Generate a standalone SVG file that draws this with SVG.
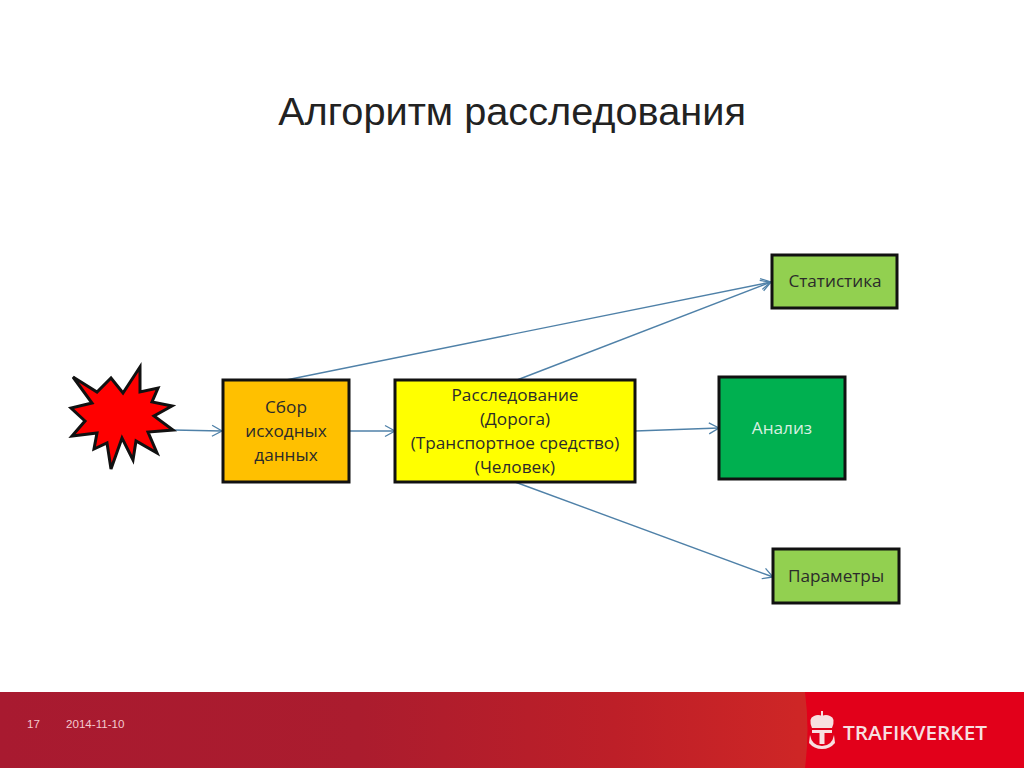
<svg xmlns="http://www.w3.org/2000/svg" width="1024" height="768" viewBox="0 0 1024 768">
<style>
.t{font-family:"Open Sans","Noto Sans","Liberation Sans",sans-serif;font-size:17.2px;text-anchor:middle;fill:#2b2b2b}
.b{stroke:#111;stroke-width:3}
.c{fill:none;stroke:#4f81a8;stroke-width:1.4;marker-end:url(#a)}
.f{font-family:"Liberation Sans",sans-serif;font-size:11.6px;fill:#f3c9cf}
</style>
<defs>
<marker id="a" markerUnits="userSpaceOnUse" markerWidth="14" markerHeight="14" refX="11" refY="7" orient="auto"><path d="M1 1.5L11 7L1 12.5" fill="none" stroke="#4f81a8" stroke-width="1.3"/></marker>
<linearGradient id="g" x1="0" x2="1" y1="0" y2="0"><stop offset="0" stop-color="#a81a30"/><stop offset=".35" stop-color="#ab1c2e"/><stop offset=".6" stop-color="#bd1f28"/><stop offset=".78" stop-color="#ce2626"/><stop offset="1" stop-color="#d42a22"/></linearGradient>
</defs>
<rect width="1024" height="768" fill="#fff"/>
<text x="512" y="125" font-family="'Liberation Sans',sans-serif" font-size="39.7" text-anchor="middle" fill="#222">Алгоритм расследования</text>
<g id="connectors">
<path class="c" d="M173 430L222 431"/>
<path class="c" d="M349 431L395 431"/>
<path class="c" d="M286 380L771 282"/>
<path class="c" d="M517 380L771 282"/>
<path class="c" d="M635 431L719 428"/>
<path class="c" d="M515 482L773 577"/>
</g>
<g id="star"><polygon points="73,377 97,392 111,378 123,393 140,367 140,392 158,388 152,402 172,406 154,416 173,430 148,432 157,453 136,441 133,460 122,438 111,469 107,443 94,449 97,433 72,436 85,421 71,408 92,403" fill="#f00" stroke="#111" stroke-width="3" stroke-linejoin="miter" stroke-miterlimit="4"/></g>
<g id="sbor"><rect class="b" x="223" y="380" width="126" height="102" fill="#ffc000"/>
<text class="t" x="286" y="413">Сбор</text><text class="t" x="286" y="437">исходных</text><text class="t" x="286" y="461">данных</text></g>
<g id="rassled"><rect class="b" x="395" y="380" width="240" height="102" fill="#ff0"/>
<text class="t" x="515" y="401">Расследование</text><text class="t" x="515" y="425">(Дорога)</text><text class="t" x="515" y="449">(Транспортное средство)</text><text class="t" x="515" y="473">(Человек)</text></g>
<g id="statistika"><rect class="b" x="772" y="255" width="125" height="53" fill="#92d050"/><text class="t" x="835" y="287">Статистика</text></g>
<g id="analiz"><rect class="b" x="719" y="377" width="126" height="102" fill="#00b050"/><text class="t" x="782" y="434" style="fill:#d8efe0">Анализ</text></g>
<g id="parametry"><rect class="b" x="773" y="549" width="126" height="54" fill="#92d050"/><text class="t" x="836" y="582">Параметры</text></g>
<g id="footer">
<rect y="692" width="1024" height="76" fill="url(#g)"/>
<path d="M805 692H1024V768H805Q810 730 805 692Z" fill="#e2001a"/>
<text class="f" x="27" y="728">17</text>
<text class="f" x="66" y="728">2014-11-10</text>
<g fill="#f7dfe0">
<path d="M812 728Q808 718 814 716Q818 714 822 716Q826 714 830 716Q836 718 832 728Z"/>
<path d="M822 711v5" stroke="#f7dfe0" stroke-width="2"/>
<rect x="812" y="730" width="20" height="3"/>
<rect x="819.5" y="732" width="5" height="12"/>
<path d="M810 735Q812 746 822 746Q832 746 834 735L835 743Q830 749 822 749Q814 749 809 743Z"/>
</g>
<text x="843" y="740" font-family="'Open Sans','Liberation Sans',sans-serif" font-weight="600" font-size="20" textLength="144" lengthAdjust="spacingAndGlyphs" fill="#f7dfe0">TRAFIKVERKET</text>
</g>
</svg>
